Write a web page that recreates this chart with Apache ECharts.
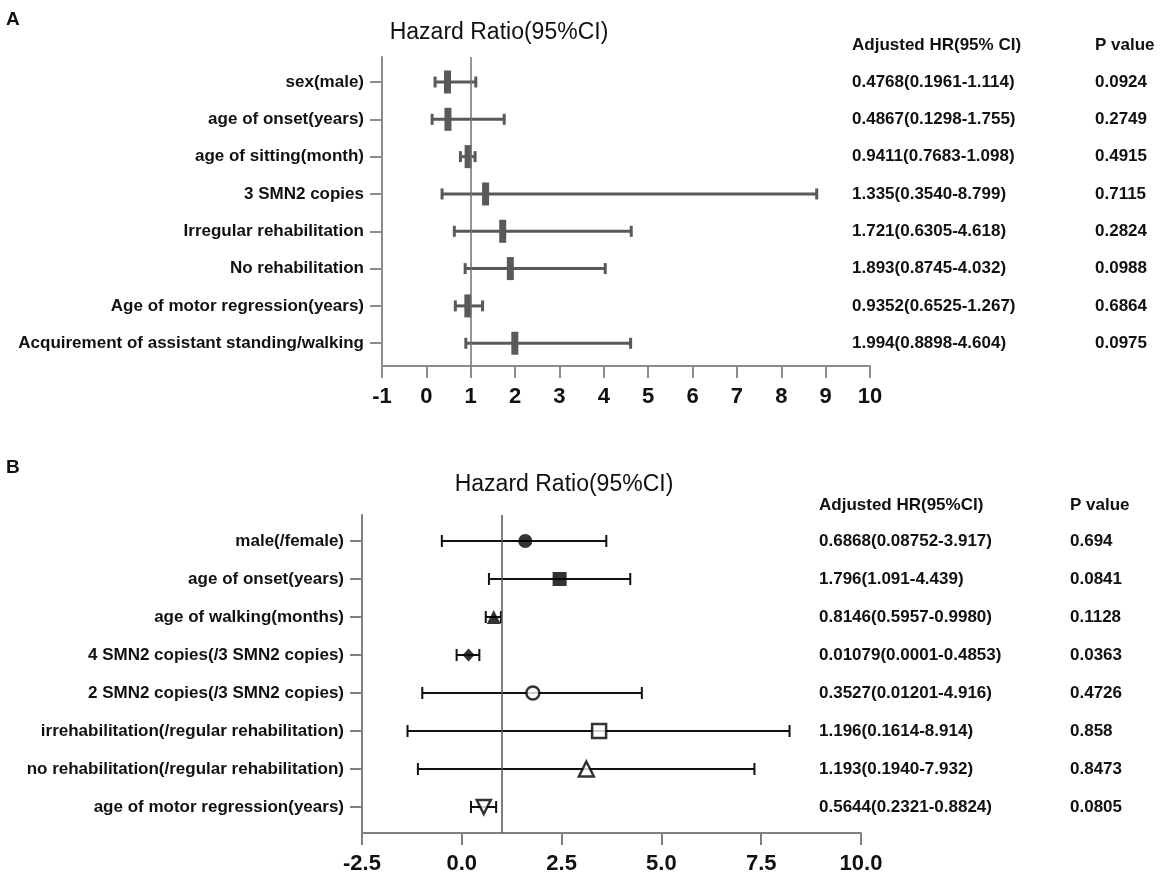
<!DOCTYPE html>
<html>
<head>
<meta charset="utf-8">
<title>Hazard Ratio forest plots</title>
<script src="https://cdn.jsdelivr.net/npm/echarts@6/dist/echarts.min.js"></script>
<style>
  html, body { margin: 0; padding: 0; background: #fff; }
  #chart { width: 1170px; height: 881px; }
</style>
</head>
<body>
<div id="chart"></div>
<script>
// ---- 图A: 数据 (与右侧表格一致) ----
var labelsA = [
  'sex(male)', 'age of onset(years)', 'age of sitting(month)', '3 SMN2 copies',
  'Irregular rehabilitation', 'No rehabilitation', 'Age of motor regression(years)',
  'Acquirement of assistant standing/walking'
];
var hrA   = [0.4768, 0.4867, 0.9411, 1.335, 1.721, 1.893, 0.9352, 1.994];
var lowA  = [0.1961, 0.1298, 0.7683, 0.3540, 0.6305, 0.8745, 0.6525, 0.8898];
var highA = [1.114, 1.755, 1.098, 8.799, 4.618, 4.032, 1.267, 4.604];
var ciTextA = [
  '0.4768(0.1961-1.114)', '0.4867(0.1298-1.755)', '0.9411(0.7683-1.098)', '1.335(0.3540-8.799)',
  '1.721(0.6305-4.618)', '1.893(0.8745-4.032)', '0.9352(0.6525-1.267)', '1.994(0.8898-4.604)'
];
var pA = ['0.0924', '0.2749', '0.4915', '0.7115', '0.2824', '0.0988', '0.6864', '0.0975'];

// ---- 图B: 数据 (图上点位按图读取) ----
var labelsB = [
  'male(/female)', 'age of onset(years)', 'age of walking(months)',
  '4 SMN2 copies(/3 SMN2 copies)', '2 SMN2 copies(/3 SMN2 copies)',
  'irrehabilitation(/regular rehabilitation)', 'no rehabilitation(/regular rehabilitation)',
  'age of motor regression(years)'
];
var meanB = [1.59, 2.45, 0.80, 0.17, 1.78, 3.44, 3.12, 0.55];
var lowB  = [-0.50, 0.68, 0.60, -0.13, -0.99, -1.36, -1.10, 0.23];
var highB = [3.62, 4.22, 0.98, 0.44, 4.51, 8.21, 7.33, 0.86];
var ciTextB = [
  '0.6868(0.08752-3.917)', '1.796(1.091-4.439)', '0.8146(0.5957-0.9980)',
  '0.01079(0.0001-0.4853)', '0.3527(0.01201-4.916)', '1.196(0.1614-8.914)',
  '1.193(0.1940-7.932)', '0.5644(0.2321-0.8824)'
];
var pB = ['0.694', '0.0841', '0.1128', '0.0363', '0.4726', '0.858', '0.8473', '0.0805'];

var ticksA = [-1, 10, 1];     // min, max, interval
var ticksB = [-2.5, 10, 2.5];

// 图B 标记样式
var symB    = ['circle', 'rect', 'triangle', 'diamond', 'circle', 'rect', 'triangle', 'triangle'];
var filledB = [true, true, true, true, false, false, false, false];
var sizeB   = [14, 14, 14, [12, 13], 13, 14, 15, 14];
var rotB    = [0, 0, 0, 0, 0, 0, 0, 180];

var FONT = "'Liberation Sans', Arial, sans-serif";
var INK = '#111';
var rows = labelsA.map(function (_, i) { return i + 1; });

function errorBars(color, width, cap, box) {
  return function (params, api) {
    var row = api.value(0);
    var lo = api.coord([api.value(1), row]);
    var hi = api.coord([api.value(2), row]);
    var mid = api.coord([api.value(3), row]);
    var h = cap / 2;
    var st = { stroke: color, lineWidth: width };
    var kids = [
      { type: 'line', shape: { x1: lo[0], y1: lo[1], x2: hi[0], y2: hi[1] }, style: st },
      { type: 'line', shape: { x1: lo[0], y1: lo[1] - h, x2: lo[0], y2: lo[1] + h }, style: st },
      { type: 'line', shape: { x1: hi[0], y1: hi[1] - h, x2: hi[0], y2: hi[1] + h }, style: st }
    ];
    if (box) {
      kids.push({
        type: 'rect',
        shape: { x: mid[0] - box[0] / 2, y: mid[1] - box[1] / 2, width: box[0], height: box[1] },
        style: { fill: color }
      });
    }
    return { type: 'group', children: kids };
  };
}

function xAxis(gi, t, color, fmt) {
  return {
    type: 'value', gridIndex: gi, min: t[0], max: t[1], interval: t[2],
    axisLine: { onZero: false, lineStyle: { color: color, width: 2 } },
    axisTick: { length: 12, lineStyle: { color: color, width: 2 } },
    splitLine: { show: false },
    axisLabel: {
      color: INK, fontSize: 22, fontWeight: 'bold', fontFamily: FONT, margin: 20,
      formatter: fmt
    }
  };
}

function yAxisMain(gi, range, names, color) {
  return {
    type: 'value', gridIndex: gi, min: range[0], max: range[1], inverse: true,
    axisLine: { show: true, onZero: false, lineStyle: { color: color, width: 2 } },
    axisTick: { show: true, length: 12, customValues: rows, lineStyle: { color: color, width: 2 } },
    splitLine: { show: false },
    axisLabel: {
      customValues: rows, color: INK, fontSize: 17, fontWeight: 'bold', fontFamily: FONT, margin: 18,
      formatter: function (v) { return names[Math.round(v) - 1]; }
    }
  };
}

// 右侧表格列: 借用不显示轴线的 y 轴
function yAxisCol(gi, range, texts, offset) {
  return {
    type: 'value', gridIndex: gi, min: range[0], max: range[1], inverse: true,
    position: 'right', offset: offset,
    axisLine: { show: false, onZero: false }, axisTick: { show: false }, splitLine: { show: false },
    axisLabel: {
      customValues: rows, color: INK, fontSize: 17, fontWeight: 'bold', fontFamily: FONT, margin: 0,
      align: 'left',
      formatter: function (v) { return texts[Math.round(v) - 1]; }
    }
  };
}

function txt(s, x, y, size, bold, align) {
  return {
    type: 'text', x: x, y: y, silent: true,
    style: {
      text: s, fill: INK, font: (bold ? 'bold ' : '') + size + 'px ' + FONT,
      textAlign: align || 'left', textVerticalAlign: 'middle'
    }
  };
}

var rangeA = [0.33, 8.61];
var rangeB = [0.316, 8.684];
var greyA = '#8c8c8c', greyB = '#808080';

var refLine = function (color) {
  return {
    symbol: ['none', 'none'], silent: true, label: { show: false },
    lineStyle: { color: color, width: 1.5, type: 'solid' },
    data: [{ xAxis: 1 }]
  };
};

var option = {
  animation: false,
  backgroundColor: '#fff',
  grid: [
    { left: 382, top: 57, width: 488, height: 309 },
    { left: 362, top: 515, width: 499, height: 318 }
  ],
  xAxis: [
    xAxis(0, ticksA, greyA, function (v) { return String(v); }),
    xAxis(1, ticksB, greyB, function (v) { return v.toFixed(1); })
  ],
  yAxis: [
    yAxisMain(0, rangeA, labelsA, greyA),
    yAxisCol(0, rangeA, ciTextA, -18),
    yAxisCol(0, rangeA, pA, 225),
    yAxisMain(1, rangeB, labelsB, greyB),
    yAxisCol(1, rangeB, ciTextB, -42),
    yAxisCol(1, rangeB, pB, 209)
  ],
  graphic: [
    txt('A', 6, 20, 19, true),
    txt('Hazard Ratio(95%CI)', 499, 33, 23, false, 'center'),
    txt('Adjusted HR(95% CI)', 852, 45, 17, true),
    txt('P value', 1095, 45, 17, true),
    txt('B', 6, 468, 19, true),
    txt('Hazard Ratio(95%CI)', 564, 485, 23, false, 'center'),
    txt('Adjusted HR(95%CI)', 819, 505, 17, true),
    txt('P value', 1070, 505, 17, true)
  ],
  series: [
    {
      type: 'custom', xAxisIndex: 0, yAxisIndex: 0, clip: false,
      renderItem: errorBars('#595959', 3, 11, [7, 23]),
      encode: { x: [1, 2, 3], y: 0 },
      data: rows.map(function (r, i) { return [r, lowA[i], highA[i], hrA[i]]; }),
      markLine: refLine('#707070'),
      z: 3
    },
    {
      type: 'custom', xAxisIndex: 1, yAxisIndex: 3, clip: false,
      renderItem: errorBars('#111', 2, 12, null),
      encode: { x: [1, 2, 3], y: 0 },
      data: rows.map(function (r, i) { return [r, lowB[i], highB[i], meanB[i]]; }),
      markLine: refLine('#555'),
      z: 3
    },
    {
      type: 'scatter', xAxisIndex: 1, yAxisIndex: 3, z: 4,
      data: rows.map(function (r, i) {
        return {
          value: [meanB[i], r],
          symbol: symB[i],
          symbolSize: sizeB[i],
          symbolRotate: rotB[i],
          itemStyle: filledB[i]
            ? { color: '#000' }
            : { color: '#fff', borderColor: '#000', borderWidth: 2.5 }
        };
      })
    }
  ]
};

var chart = echarts.init(document.getElementById('chart'));
chart.setOption(option);
</script>
</body>
</html>
